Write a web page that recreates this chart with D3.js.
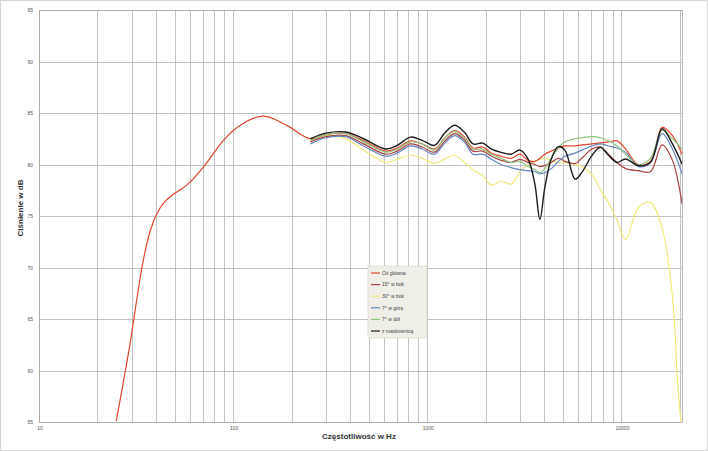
<!DOCTYPE html>
<html>
<head>
<meta charset="utf-8">
<script src="https://cdn.jsdelivr.net/npm/d3@7"></script>
<style>
  body { margin: 0; background: #fff; }
  svg { display: block; font-family: "Liberation Sans", Arial, sans-serif; }
</style>
</head>
<body>
<div id="app"></div>
<script>
// frequencies (Hz)
const lowFreq = [25, 29.2, 34.2, 37.3, 40.4, 44, 50, 57.7, 70.3, 89.2, 108.6, 143, 189];
const midFreq = [250, 300, 380, 470, 610, 700, 820, 940, 1090, 1220, 1380, 1550, 1720, 1930, 2140,
  2400, 2700, 3000, 3300, 3580, 3800, 4030, 4350, 4730, 5120, 5770, 6250, 7040, 7780, 8570, 9480,
  10500, 12200, 14100, 16200, 18300, 20500];
const yellowTailFreq = [19400, 20200];

// SPL (dB)
const osGlownaLow = [55.1, 62.2, 70.4, 73.5, 75.2, 76.3, 77.2, 78.0, 79.75, 82.35, 83.8, 84.7, 83.8];
const osGlowna = [82.5, 82.9, 83.0, 82.3, 81.3, 81.6, 82.3, 82.0, 81.5, 82.5, 83.3, 82.7, 81.6, 81.7, 81.1,
  80.8, 80.6, 81.0, 80.4, 80.3, 80.6, 81.0, 81.3, 81.6, 81.8, 81.8, 81.9, 82.0, 82.1, 82.2, 82.3,
  81.5, 80.0, 80.3, 83.6, 82.8, 81.0];
const bok15 = [82.2, 82.7, 82.8, 82.0, 81.0, 81.3, 82.0, 81.7, 81.2, 82.2, 83.0, 82.4, 81.3, 81.3, 80.8,
  80.4, 80.2, 80.5, 80.2, 80.0, 79.8, 79.9, 80.2, 80.6, 80.3, 80.1, 80.6, 81.5, 81.7, 81.0, 80.2,
  79.6, 79.4, 79.3, 81.9, 80.4, 76.2];
const bok30 = [82.3, 82.8, 82.5, 81.4, 80.2, 80.5, 80.9, 80.6, 80.1, 80.5, 80.9, 80.2, 79.5, 78.9, 78.0,
  78.4, 78.1, 79.3, 80.0, 80.3, 80.5, 80.6, 80.4, 80.2, 80.2, 80.0, 79.8, 79.0, 77.6, 76.3, 74.6,
  72.7, 75.8, 76.3, 73.8, 67.2];
const bok30Tail = [59.3, 55.0];
const gora7 = [82.0, 82.6, 82.7, 81.8, 80.8, 81.1, 81.8, 81.5, 81.0, 82.0, 82.8, 82.2, 81.0, 81.0, 80.5,
  80.0, 79.7, 79.5, 79.4, 79.3, 79.1, 79.2, 79.6, 80.3, 80.8, 81.1, 81.4, 81.8, 82.0, 81.8, 81.6,
  81.2, 79.8, 80.2, 83.0, 81.5, 79.1];
const dol7 = [82.3, 82.9, 83.0, 82.2, 81.2, 81.5, 82.2, 82.0, 81.4, 82.5, 83.2, 82.6, 81.5, 81.5, 81.0,
  80.6, 80.2, 80.3, 79.8, 79.5, 79.2, 79.6, 80.6, 81.6, 82.2, 82.5, 82.6, 82.7, 82.6, 82.3, 81.8,
  81.0, 80.0, 80.6, 83.3, 82.5, 81.5];
const maskownica = [82.5, 83.05, 83.15, 82.5, 81.5, 81.86, 82.66, 82.35, 81.86, 82.98, 83.81, 83.15, 82.0,
  82.07, 81.5, 81.18, 81.0, 81.4, 80.54, 78.1, 74.67, 77.77, 80.54, 81.74, 81.37, 78.58, 79.23,
  80.86, 81.68, 80.9, 80.2, 80.54, 79.9, 80.2, 83.47, 82.0, 80.05];

const seriesNames = ['Oś główna', '15° w bok', '30° w bok', '7° w górę', '7° w dół', 'z maskownicą'];
const seriesColors = ['#e2452e', '#a8413f', '#f1e97c', '#6384c0', '#8fc27c', '#1c1c1c'];

const yTicks = [55, 60, 65, 70, 75, 80, 85, 90, 95];
const xTicks = [10, 100, 1000, 10000];
const xMinor = [2, 3, 4, 5, 6, 7, 8, 9];

const width = 708;
const height = 451;
const margin = { top: 10, right: 26, bottom: 29, left: 39 };
const gridStroke = '#b4b4b4';

const zip = (f, v) => f.slice(0, v.length).map((x, i) => ({ f: x, v: v[i] }));

const series = [
  zip(lowFreq.concat(midFreq), osGlownaLow.concat(osGlowna)),
  zip(midFreq, bok15),
  zip(midFreq.slice(0, bok30.length).concat(yellowTailFreq), bok30.concat(bok30Tail)),
  zip(midFreq, gora7),
  zip(midFreq, dol7),
  zip(midFreq, maskownica),
];

const svg = d3.select('#app')
  .append('svg')
  .attr('width', width)
  .attr('height', height);

svg.append('rect')
  .attr('x', 0.5).attr('y', 0.5)
  .attr('width', width - 1).attr('height', height - 1)
  .attr('fill', '#fff')
  .attr('stroke', '#d6d6d6');

const x = d3.scaleLog()
  .domain([10, 20500])
  .range([margin.left, width - margin.right]);

const y = d3.scaleLinear()
  .domain([55, 95])
  .range([height - margin.bottom, margin.top]);

svg.append('defs')
  .append('clipPath')
  .attr('id', 'clip')
  .append('rect')
  .attr('x', margin.left)
  .attr('y', margin.top)
  .attr('width', x.range()[1] - margin.left)
  .attr('height', y.range()[0] - margin.top);

// grid: vertical lines at every 1..9 x decade
const vLines = [];
xTicks.forEach((d) => {
  vLines.push(d);
  xMinor.forEach(m => vLines.push(d * m));
});

const grid = svg.append('g').attr('class', 'grid');
grid.selectAll('.vline')
  .data(vLines.filter(d => d < x.domain()[1]))
  .enter()
  .append('line')
  .attr('class', 'vline')
  .attr('x1', d => Math.round(x(d)) + 0.5)
  .attr('x2', d => Math.round(x(d)) + 0.5)
  .attr('y1', y.range()[1])
  .attr('y2', y.range()[0])
  .attr('stroke', gridStroke)
  .attr('stroke-width', 0.8);

grid.selectAll('.hline')
  .data(yTicks)
  .enter()
  .append('line')
  .attr('class', 'hline')
  .attr('x1', margin.left)
  .attr('x2', x.range()[1])
  .attr('y1', d => Math.round(y(d)) + 0.5)
  .attr('y2', d => Math.round(y(d)) + 0.5)
  .attr('stroke', gridStroke)
  .attr('stroke-width', 0.8);

grid.append('rect')
  .attr('x', margin.left + 0.5)
  .attr('y', margin.top + 0.5)
  .attr('width', x.range()[1] - margin.left)
  .attr('height', y.range()[0] - margin.top)
  .attr('fill', 'none')
  .attr('stroke', '#a8a8a8')
  .attr('stroke-width', 0.8);

// axes labels
svg.append('g')
  .selectAll('text')
  .data(yTicks)
  .enter()
  .append('text')
  .attr('x', margin.left - 6)
  .attr('y', d => y(d) + 2)
  .attr('text-anchor', 'end')
  .attr('font-size', 5)
  .attr('fill', '#555')
  .text(d => d);

svg.append('g')
  .selectAll('text')
  .data(xTicks)
  .enter()
  .append('text')
  .attr('x', d => x(d) + 1)
  .attr('y', y.range()[0] + 8)
  .attr('text-anchor', 'middle')
  .attr('font-size', 5)
  .attr('fill', '#555')
  .text(d => d);

svg.append('text')
  .attr('transform', `translate(23,${(margin.top + y.range()[0]) / 2 - 8}) rotate(-90)`)
  .attr('text-anchor', 'middle')
  .attr('font-size', 8)
  .attr('font-weight', 'bold')
  .attr('fill', '#333')
  .text('Ciśnienie w dB');

svg.append('text')
  .attr('x', 359)
  .attr('y', 439)
  .attr('text-anchor', 'middle')
  .attr('font-size', 8)
  .attr('font-weight', 'bold')
  .attr('fill', '#333')
  .text('Częstotliwość w Hz');

// curves
const line = d3.line()
  .x(d => x(d.f))
  .y(d => y(d.v))
  .curve(d3.curveCatmullRom.alpha(0.5));

const drawOrder = [2, 0, 1, 3, 4, 5];
svg.append('g')
  .attr('clip-path', 'url(#clip)')
  .selectAll('path')
  .data(drawOrder)
  .enter()
  .append('path')
  .attr('d', i => line(series[i]))
  .attr('fill', 'none')
  .attr('stroke', i => seriesColors[i])
  .attr('stroke-width', i => (i === 5 ? 1.4 : 1.2))
  .attr('stroke-linejoin', 'round');

// legend
const legend = svg.append('g')
  .attr('transform', 'translate(368,266)');

legend.append('rect')
  .attr('width', 59)
  .attr('height', 72)
  .attr('fill', '#efefe8')
  .attr('stroke', '#d4d4cc')
  .attr('stroke-width', 0.6);

const item = legend.selectAll('.item')
  .data(seriesNames)
  .enter()
  .append('g')
  .attr('class', 'item')
  .attr('transform', (d, i) => `translate(3,${7 + i * 11.6})`);

item.append('line')
  .attr('x1', 0)
  .attr('x2', 9)
  .attr('stroke', (d, i) => seriesColors[i])
  .attr('stroke-width', 1.2);

item.append('text')
  .attr('x', 11)
  .attr('y', 1.8)
  .attr('font-size', 5)
  .attr('fill', '#444')
  .text(d => d);
</script>
</body>
</html>
